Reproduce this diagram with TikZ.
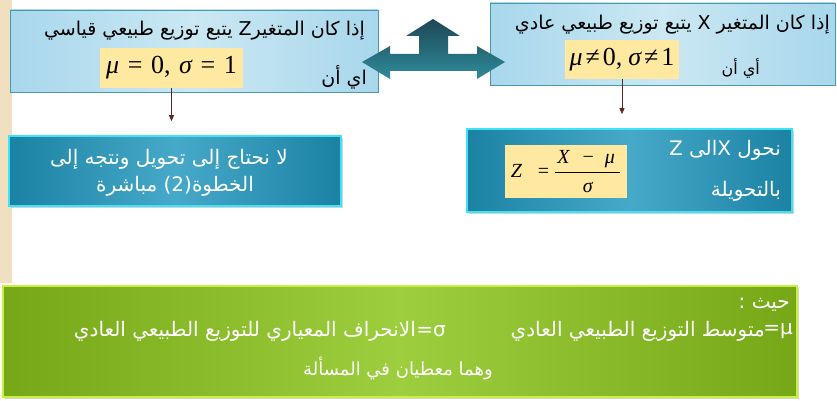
\documentclass[tikz,border=0pt]{standalone}
\usepackage{fontspec}
\usetikzlibrary{shadows,arrows.meta}
\TeXXeTstate=1
\newfontfamily\arabicfont[Script=Arabic]{DejaVu Sans}
\newfontfamily\tnr{Liberation Serif}
\definecolor{beige}{HTML}{F0E0C0}
\definecolor{topedge}{HTML}{A8D7EC}
\definecolor{topmid}{HTML}{CBE8F3}
\definecolor{topborder}{HTML}{4A98AE}
\definecolor{tealedge}{HTML}{1B82A3}
\definecolor{tealmid}{HTML}{47A9CA}
\definecolor{tealborder}{HTML}{3FE3F5}
\definecolor{greenedge}{HTML}{76A716}
\definecolor{greenmid}{HTML}{9DCE3E}
\definecolor{greenborder}{HTML}{C8F040}
\definecolor{hilite}{HTML}{FFE9A0}
\definecolor{arrowtop}{HTML}{1E4755}
\definecolor{arrowbot}{HTML}{2F8B9B}
\definecolor{pointer}{HTML}{5B2B22}
\tikzset{
  topbox/.style={draw=topborder, line width=0.8pt, left color=topedge, right color=topedge, middle color=topmid, inner sep=0pt},
  tealbox/.style={draw=tealborder, line width=1.6pt, left color=tealedge, right color=tealedge, middle color=tealmid, inner sep=0pt,
     drop shadow={shadow xshift=1.5pt, shadow yshift=-1.5pt, opacity=0.35}},
  greenbox/.style={draw=greenborder, line width=1.6pt, left color=greenedge, right color=greenedge, middle color=greenmid, inner sep=0pt,
     drop shadow={shadow xshift=1.5pt, shadow yshift=-1.5pt, opacity=0.35}},
  formula/.style={fill=hilite, inner sep=0pt, font=\tnr},
  artext/.style={inner sep=0pt, font=\arabicfont\fontsize{19}{24}\selectfont},
  wtext/.style={inner sep=0pt, text=white, font=\arabicfont\fontsize{20}{26}\selectfont},
  gtext/.style={inner sep=0pt, text=white, font=\arabicfont\fontsize{20}{24}\selectfont},
  pointerarrow/.style={draw=pointer, line width=0.8pt, -{Triangle[width=5pt,length=6pt]}}
}
\begin{document}
\begin{tikzpicture}[x=1pt,y=-1pt]
\useasboundingbox (0,0) rectangle (837,401);
\fill[beige] (0,0) rectangle (12,283);

% top boxes
\node[topbox, minimum width=368pt, minimum height=82pt] (tl) at (194,51) {};
\node[topbox, minimum width=345pt, minimum height=82pt] (tr) at (662.5,44) {};

% mid boxes
\node[tealbox, minimum width=332pt, minimum height=70pt] (ml) at (175,171) {};
\node[tealbox, minimum width=325pt, minimum height=83pt] (mr) at (629.5,170.5) {};

% green box
\node[greenbox, minimum width=794pt, minimum height=111pt] (gb) at (400,341.5) {};

% double arrow
\shade[top color=arrowtop, bottom color=arrowbot]
  (362,62) -- (390,46) -- (390,54) -- (419,54) -- (419,36) -- (406,36) -- (433,19)
  -- (460,36) -- (448,36) -- (448,54) -- (477,54) -- (477,46) -- (505,62)
  -- (477,79) -- (477,71) -- (390,71) -- (390,79) -- cycle;

% texts top left
\node[artext, anchor=east] (tl1) at (365,31) {\beginR إذا كان المتغير\kern0pt Z يتبع توزيع طبيعي قياسي\endR};
\node[artext, anchor=east] (tl2) at (367,77) {\beginR اي أن\endR};
\node[formula, minimum width=143pt, minimum height=40pt] (fl) at (171.5,68)
  {\fontsize{26}{28}\selectfont\itshape μ\hspace{0.33em}\upshape=\hspace{0.33em}0,\hspace{0.33em}\itshape σ\hspace{0.33em}\upshape=\hspace{0.33em}1};

% texts top right
\node[artext, anchor=east] (tr1) at (830,25) {\beginR إذا كان المتغير X يتبع توزيع طبيعي عادي\endR};
\node[artext, anchor=east, font=\arabicfont\fontsize{16}{20}\selectfont] (tr2) at (760,68) {\beginR أي أن\endR};
\node[formula, minimum width=114pt, minimum height=39pt] (fr) at (622,59.5)
  {\fontsize{26}{28}\selectfont\itshape μ\hspace{3pt}\upshape≠\hspace{3pt}0,\hspace{6pt}\itshape σ\hspace{3pt}\upshape≠\hspace{3pt}1};

% mid left text
\node[wtext, anchor=east] (ml1) at (288,159) {\beginR لا نحتاج إلى تحويل ونتجه إلى\endR};
\node[wtext] (ml2) at (175,186) {\beginR الخطوة\kern0pt\beginL(2)\endL\ مباشرة\endR};

% mid right text
\node[wtext, anchor=east] (mr1) at (781,150) {\beginR نحول X\kern0ptالى Z\endR};
\node[wtext, anchor=east] (mr2) at (781,191) {\beginR بالتحويلة\endR};
\node[formula, minimum width=122pt, minimum height=53pt] (fz) at (566,171.5)
  {\fontsize{20}{22}\selectfont\itshape Z\hspace{16pt}\upshape=\hspace{5pt}%
   $\displaystyle\frac{\hbox{\tnr\hspace{2pt}\itshape X\hspace{13pt}\upshape−\hspace{11pt}\itshape μ\hspace{5pt}}}{\hbox{\tnr\itshape σ}}$};

% green texts
\node[gtext, anchor=east] (g1) at (790,305) {\beginR حيث :\endR};
\node[gtext, anchor=east] (g2mu) at (793,331) {=μ};
\node[gtext, anchor=east] (g2p1) at (765,331) {\beginR متوسط التوزيع الطبيعي العادي\endR};
\node[gtext, anchor=east] (g2sig) at (446,331) {=σ};
\node[gtext, anchor=east] (g2p2) at (416,331) {\beginR الانحراف المعياري للتوزيع الطبيعي العادي\endR};
\node[gtext, font=\arabicfont\fontsize{18}{22}\selectfont] (g3) at (398,368) {\beginR وهما معطيان في المسألة\endR};

% pointers
\draw[pointerarrow, shorten >=14pt] (fl.south) -- (fl.south |- ml.north);
\draw[pointerarrow, shorten >=14pt] (fr.south) -- (fr.south |- mr.north);
\end{tikzpicture}
\end{document}
